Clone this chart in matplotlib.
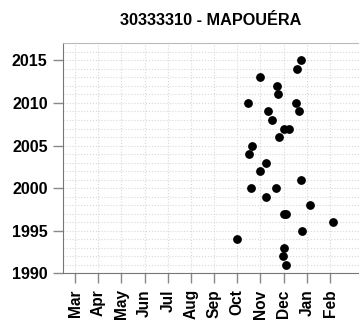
import matplotlib
matplotlib.use("Agg")
import matplotlib.pyplot as plt

plt.rcParams["font.family"] = ["Liberation Sans", "DejaVu Sans"]

# Date des maxima annuels (mois depuis mars, 0 = Mar) et année
years = [2015, 2014, 2013, 2012, 2011, 2010, 2010, 2009, 2009, 2008,
         2007, 2007, 2006, 2005, 2004, 2003, 2002, 2001, 2000, 2000,
         1999, 1998, 1997, 1997, 1996, 1995, 1994, 1993, 1992, 1991]
months = [9.74, 9.56, 7.99, 8.73, 8.76, 7.47, 9.55, 8.32, 9.68, 8.48,
          9.03, 9.24, 8.80, 7.63, 7.50, 8.22, 7.99, 9.74, 7.58, 8.68,
          8.24, 10.14, 9.02, 9.10, 11.12, 9.81, 6.98, 9.02, 8.98, 9.09]

month_labels = ["Mar", "Apr", "May", "Jun", "Jul", "Aug",
                "Sep", "Oct", "Nov", "Dec", "Jan", "Feb"]
year_ticks = [1990, 1995, 2000, 2005, 2010, 2015]

fig = plt.figure(figsize=(3.59, 3.25), dpi=100)
ax = fig.add_axes([0.1755, 0.159, 0.8245, 0.7077])

ax.scatter(months, years, s=28, color="black", zorder=3, clip_on=False)

ax.set_xlim(-0.52, 12.25)
ax.set_ylim(1990, 2017)

ax.set_xticks(range(len(month_labels)))
ax.set_xticklabels(month_labels, rotation=90, fontsize=11.2, fontweight="bold")
ax.set_yticks(year_ticks)
ax.set_yticklabels([str(y) for y in year_ticks], fontsize=11.6, fontweight="bold")
ax.set_yticks(range(1991, 2018), minor=True)

ax.grid(axis="x", which="major", color="#d8d8d8", linestyle=":", linewidth=0.8)
ax.grid(axis="y", which="both", color="#d8d8d8", linestyle=":", linewidth=0.8)
ax.set_axisbelow(True)

ax.tick_params(axis="both", which="major", length=7, color="#888888", width=1)
ax.tick_params(axis="y", which="major", pad=4)
ax.tick_params(axis="x", which="major", pad=4.5)
ax.tick_params(axis="y", which="minor", length=0)

for side in ["left", "bottom"]:
    ax.spines[side].set_color("#777777")
ax.spines["top"].set_color("#bbbbbb")
ax.spines["right"].set_visible(False)

ax.set_title("30333310 - MAPOUÉRA", fontsize=11.7, fontweight="bold", pad=13)

fig.savefig("out.png", dpi=100)
